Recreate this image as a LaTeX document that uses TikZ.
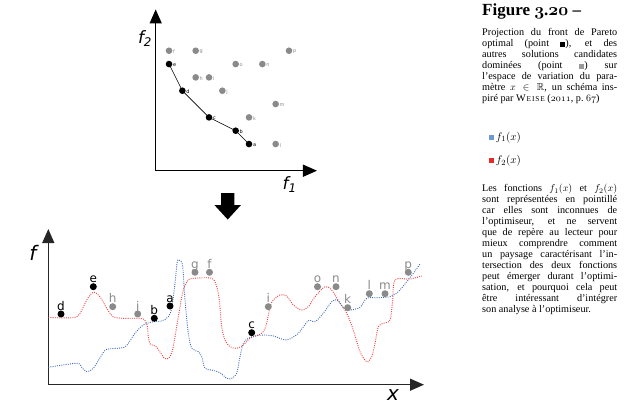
\documentclass[tikz,border=0pt]{standalone}
\usepackage{amssymb}
\usepackage{amsmath}
\usepackage{fontspec}
\setmainfont{Liberation Serif}
\newfontfamily\verafont{DejaVu Sans}
\usetikzlibrary{arrows.meta,positioning}

\definecolor{ptgray}{HTML}{8A8A8A}
\definecolor{fred}{HTML}{F23535}
\definecolor{fblue}{HTML}{3A68B8}
\definecolor{legblue}{HTML}{6C9BD2}
\definecolor{legred}{HTML}{E52A2A}
\newcommand{\osn}[1]{{\usefont{OML}{cmm}{m}{it}#1}}
\newcommand{\osnb}[1]{{\usefont{OML}{cmm}{b}{it}#1}}
\newcommand{\weise}{W\kern0.8pt{\fontsize{7.4}{11}\selectfont E\kern0.9pt I\kern0.9pt S\kern0.9pt E}}

\begin{document}
\begin{tikzpicture}[x=1pt,y=-1pt,
	front/.style={circle,fill=black,inner sep=0pt,minimum size=6.6pt},
	domin/.style={circle,fill=ptgray,inner sep=0pt,minimum size=6.6pt},
	flbl/.style={font=\verafont\fontsize{5}{5}\selectfont,inner sep=0.3pt,yshift=-1.2pt},
	dlbl/.style={flbl,text=ptgray},
	bfront/.style={front,minimum size=7pt,label distance=3.5pt},
	bdomin/.style={domin,minimum size=7pt,label distance=3.5pt},
	blbl/.style={font=\verafont\fontsize{12}{12}\selectfont,inner sep=0pt,text depth=0pt},
	glbl/.style={blbl,text=ptgray},
	axis/.style={line width=1.3pt,-{Triangle[length=14pt,width=12pt]}},
	axlbl/.style={font=\verafont\itshape\fontsize{17}{17}\selectfont,inner sep=0pt},
	fone/.style={fblue,line width=0.9pt,dash pattern=on 0.9pt off 1.3pt},
	ftwo/.style={fred,line width=0.9pt,dash pattern=on 0.9pt off 1.3pt},
	caption/.style={text width=135pt,align=justify,inner sep=0pt,font=\fontsize{10.2}{11}\selectfont},
	legsq/.style={inner sep=0pt,minimum size=5pt}]
	\useasboundingbox (0,0) rectangle (627,412);

	% espace des objectifs
	\begin{scope}[shift={(155.7,170.7)},x=13.33pt,y=13.33pt]
		\coordinate (o1) at (0,0);
		\coordinate (y1) at (0,12.1);
		\coordinate (x1) at (12.1,0);
		\draw[axis] (o1) -- (y1);
		\draw[axis] (o1) -- (x1);
		\node[axlbl] (f2lbl) at (-0.8,9.9) {f\textsubscript{2}};
		\node[axlbl] (f1lbl) at (10.05,-1.05) {f\textsubscript{1}};
		\draw[line width=0.6pt] (1,8) -- (2,6) -- (4,4) -- (6,3) -- (7,2);
		\node[front,label={[flbl]right:a}] (fa) at (7,2) {};
		\node[front,label={[flbl]right:b}] (fb) at (6,3) {};
		\node[front,label={[flbl]right:c}] (fc) at (4,4) {};
		\node[front,label={[flbl]right:d}] (fd) at (2,6) {};
		\node[front,label={[flbl]right:e}] (fe) at (1,8) {};
		\node[domin,label={[dlbl]right:f}] (ff) at (1,9) {};
		\node[domin,label={[dlbl]right:g}] (fg) at (3,9) {};
		\node[domin,label={[dlbl]right:h}] (fh) at (3,7) {};
		\node[domin,label={[dlbl]right:i}] (fi) at (4,7) {};
		\node[domin,label={[dlbl]right:j}] (fj) at (5,6) {};
		\node[domin,label={[dlbl]right:k}] (fk) at (7,4) {};
		\node[domin,label={[dlbl]right:l}] (fl) at (9,2) {};
		\node[domin,label={[dlbl]right:m}] (fm) at (9,5) {};
		\node[domin,label={[dlbl]right:n}] (fn) at (8,8) {};
		\node[domin,label={[dlbl]right:o}] (fo) at (6,8) {};
		\node[domin,label={[dlbl]right:p}] (fp) at (10,9) {};
	\end{scope}

	\fill (221,193) -- (234.4,193) -- (234.4,205) -- (241,205) -- (227.7,219.5)
		-- (214.4,205) -- (221,205) -- cycle;

	% espace des parametres
	\coordinate (o2) at (48.3,384.7);
	\coordinate (y2) at (48.3,229);
	\coordinate (x2) at (424,384.7);
	\draw[axis,black!85] (o2) -- (y2);
	\draw[axis,black!85] (o2) -- (x2);
	\node[axlbl,font=\verafont\itshape\fontsize{20}{20}\selectfont] (flbl) at (33,253) {f};
	\node[axlbl,font=\verafont\itshape\fontsize{20}{20}\selectfont] (xlbl) at (393,395) {x};

	\draw[ftwo] plot[smooth] coordinates {(48.3,317.5) (73.3,317.7) (80,313.3) (86.7,300)
		(93.3,292.2) (100,296.7) (106.7,308.3) (113.3,316.7) (123.3,318.3) (140,318.3)
		(145,320.5) (147.5,327) (148.3,337) (150.5,344.3) (155.5,346) (159,350.5)
		(163.3,357) (166.5,359) (170,356.7) (173.3,346.7) (178.3,316.7) (183.3,290)
		(188.3,280) (193.3,278.3) (211.7,278.3) (216.7,286.7) (219.3,300) (221.7,326.7)
		(225,340) (230,346.7) (236.7,348.3) (243.3,345) (250,338.3) (258.3,335)
		(263.3,331.7) (266.7,323.3) (270,306.7) (273.3,300) (280,295) (286.7,296)
		(293.3,305) (301.7,310) (308.3,306.7) (315,296.7) (325,286.7) (331.7,290)
		(340,303.3) (346.7,313.3) (353.3,330) (360,351.7) (366.7,361.7) (371.7,356.7)
		(375,343.3) (378.3,326.7) (383.3,323.3) (390,320) (392.7,300) (395,280)
		(410,279) (421.7,276)};
	\draw[fone] plot[smooth] coordinates {(48.3,367.3) (76.7,363.3) (81.7,367.3) (86.7,371.7)
		(93.3,368.3) (101.7,355) (106.7,349.3) (123.3,347.7) (128.3,343.3) (135,333.3)
		(143.3,325) (153.3,321.7) (161.7,321) (168.3,316.7) (171.7,308.3) (175,283.3)
		(177.3,261.7) (180,260.7) (182.7,266.7) (185,300) (188.3,333.3) (191.7,348.3)
		(198.3,351.7) (201.7,356.7) (205,368.3) (211.7,370) (220,372.7) (226.7,378.3)
		(231.7,378.3) (236.7,373.3) (240,356.7) (243.3,343.3) (248.3,338.3) (255,336)
		(263.3,335) (273.3,336) (286.7,340) (298.3,333.3) (308.3,320.7) (315,321.7)
		(323.3,313.3) (331.7,301.7) (337.3,300) (343.3,307.3) (350,310) (360,307.3)
		(366.7,298.3) (376.7,297.7) (390,296.7) (398.3,291.7) (406.7,281.7)
		(413.3,273.3) (420,264)};

	\node[bfront,label={[blbl]above:a}] (sa) at (170,306) {};
	\node[bfront,label={[blbl]above:b}] (sb) at (154.3,318.3) {};
	\node[bfront,label={[blbl]above:c}] (sc) at (251.7,332.7) {};
	\node[bfront,label={[blbl]above:d}] (sd) at (61,314) {};
	\node[bfront,label={[blbl]above:e}] (se) at (93.3,286.7) {};
	\node[bdomin,label={[glbl]above:f}] (sf) at (209.5,272.3) {};
	\node[bdomin,label={[glbl]above:g}] (sg) at (195,272.3) {};
	\node[bdomin,label={[glbl]above:h}] (sh) at (112.7,306.7) {};
	\node[bdomin,label={[glbl]above:i}] (si) at (268.3,306.7) {};
	\node[bdomin,label={[glbl]above:j}] (sj) at (137.7,314) {};
	\node[bdomin,label={[glbl]above:k}] (sk) at (347.7,307.7) {};
	\node[bdomin,label={[glbl]above:l}] (sl) at (369.3,293.7) {};
	\node[bdomin,label={[glbl]above:m}] (sm) at (385,293.7) {};
	\node[bdomin,label={[glbl]above:n}] (sn) at (336,286.7) {};
	\node[bdomin,label={[glbl]above:o}] (so) at (317.5,286.7) {};
	\node[bdomin,label={[glbl]above:p}] (sp) at (408.3,272.3) {};

	% legende
	\node[anchor=base west,inner sep=0pt,font=\bfseries\fontsize{17}{17}\selectfont] (title) at (482,15.5)
		{Figure \osnb{3}.\osnb{20} --};
	\node[caption,anchor=base west] (cap) at (482,35.7) {Projection du front de Pareto\linebreak
		optimal (point \rule{5pt}{5pt}), et des\linebreak
		autres solutions candidates\linebreak
		dominées (point \textcolor{black!40}{\rule{5pt}{5pt}}) sur\linebreak
		l’espace de variation du para-\linebreak
		mètre $x \in \mathbb{R}$, un schéma ins-\linebreak
		piré par \weise\ (\osn{2011}, p.~\osn{67})};
	\node[legsq,fill=legblue] (sq1) at (491.5,137.5) {};
	\node[legsq,fill=legred] (sq2) at (491.5,160.8) {};
	\node[right=1.5pt of sq1,inner sep=0pt,font=\fontsize{11}{11}\selectfont] (leg1) {$f_1(x)$};
	\node[right=1.5pt of sq2,inner sep=0pt,font=\fontsize{11}{11}\selectfont] (leg2) {$f_2(x)$};
	\node[caption,anchor=base west] (note) at (482,191.7) {Les fonctions $f_1(x)$ et $f_2(x)$\linebreak
		sont représentées en pointillé\linebreak
		car elles sont inconnues de\linebreak
		l’optimiseur, et ne servent\linebreak
		que de repère au lecteur pour\linebreak
		mieux comprendre comment\linebreak
		un paysage caractérisant l’in-\linebreak
		tersection des deux fonctions\linebreak
		peut émerger durant l’optimi-\linebreak
		sation, et pourquoi cela peut\linebreak
		être intéressant d’intégrer\linebreak
		son analyse à l’optimiseur.};
\end{tikzpicture}
\end{document}
